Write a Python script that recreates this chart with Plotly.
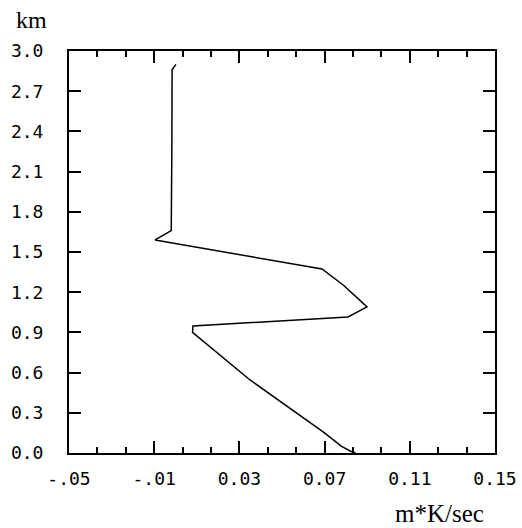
import plotly.graph_objects as go

# profile (x: m*K/sec, y: km)
flux = [0.0002, -0.0016, -0.0017, -0.0018, -0.0020, -0.0096, 0.0688, 0.0790, 0.0899, 0.0810,
        0.0082, 0.0080, 0.0350, 0.0693, 0.0780, 0.0820, 0.0845]
height = [2.90, 2.86, 2.30, 1.80, 1.66, 1.59, 1.373, 1.25, 1.09, 1.015,
          0.948, 0.90, 0.545, 0.157, 0.05, 0.015, 0.0]

x_ticks = [-0.05, -0.01, 0.03, 0.07, 0.11, 0.15]
x_labels = ["-.05", "-.01", "0.03", "0.07", "0.11", "0.15"]
y_ticks = [0.0, 0.3, 0.6, 0.9, 1.2, 1.5, 1.8, 2.1, 2.4, 2.7, 3.0]
y_labels = ["0.0", "0.3", "0.6", "0.9", "1.2", "1.5", "1.8", "2.1", "2.4", "2.7", "3.0"]

fig = go.Figure()
fig.add_trace(go.Scatter(x=flux, y=height, mode="lines",
                         line=dict(color="black", width=1.5), showlegend=False))

mono = dict(family="DejaVu Sans Mono", size=18, color="black")
fig.update_layout(
    template="none",
    width=522, height=528,
    margin=dict(l=69, r=27, t=51, b=75, autoexpand=False),
    paper_bgcolor="white", plot_bgcolor="white",
    xaxis=dict(range=[x_ticks[0], x_ticks[-1]], tickmode="array", tickvals=x_ticks,
               ticktext=x_labels, ticks="inside", ticklen=12, tickwidth=2, tickcolor="black",
               minor=dict(tick0=x_ticks[0], dtick=(x_ticks[1] - x_ticks[0]) / 3,
                          ticks="inside", ticklen=6, tickwidth=1.5, tickcolor="black",
                          showgrid=False),
               showline=True, linecolor="black", linewidth=2, mirror="ticks",
               showgrid=False, zeroline=False, tickfont=mono, automargin=False,
               ticklabelstandoff=8),
    yaxis=dict(range=[y_ticks[0], y_ticks[-1]], tickmode="array", tickvals=y_ticks,
               ticktext=y_labels, ticks="inside", ticklen=12, tickwidth=2, tickcolor="black",
               showline=True, linecolor="black", linewidth=2, mirror="ticks",
               showgrid=False, zeroline=False, tickfont=mono, automargin=False,
               ticklabelstandoff=20),
    annotations=[
        dict(text="km", xref="paper", yref="paper", x=-0.089, y=(453 - 20) / 402,
             xanchor="center", yanchor="middle", showarrow=False,
             font=dict(family="Liberation Serif", size=24, color="black")),
        dict(text="m*K/sec", xref="paper", yref="paper", x=(439 - 69) / 426,
             y=(453 - 513) / 402, xanchor="center", yanchor="middle", showarrow=False,
             font=dict(family="Liberation Serif", size=25, color="black")),
    ],
)
fig.write_html("out.html")
